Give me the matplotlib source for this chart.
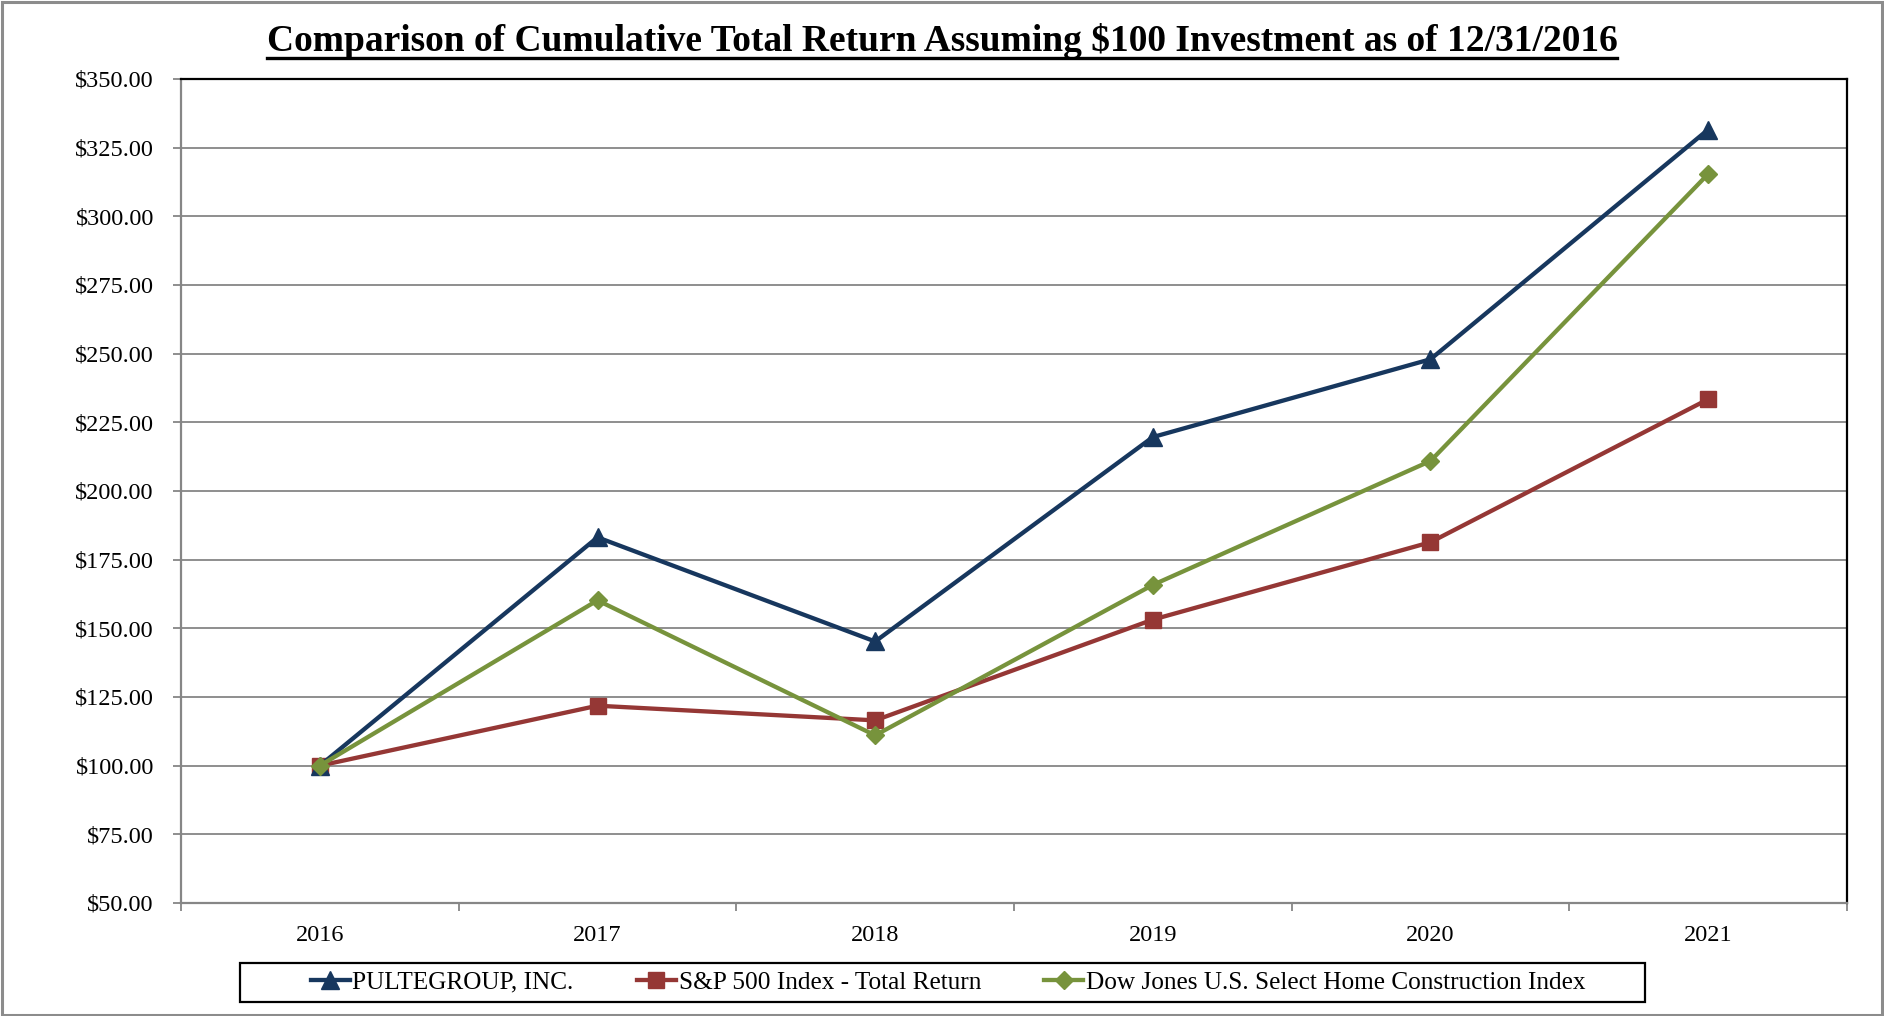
import matplotlib
matplotlib.use("Agg")
import matplotlib.pyplot as plt
from matplotlib.lines import Line2D
from matplotlib.patches import Rectangle
from matplotlib.ticker import FuncFormatter

years = ["2016", "2017", "2018", "2019", "2020", "2021"]
pulte = [100.00, 183.13, 145.21, 219.63, 247.97, 331.59]
sp500 = [100.00, 121.83, 116.49, 153.17, 181.35, 233.41]
djhome = [100.00, 160.19, 111.04, 165.81, 210.93, 315.42]

NAVY = "#17375E"
RED = "#953735"
GREEN = "#77933C"
GRID = "#868686"

plt.rcParams["font.family"] = ["Liberation Serif", "DejaVu Serif"]

W, H = 1884, 1016
fig = plt.figure(figsize=(W / 100, H / 100), dpi=100)
fig.patch.set_facecolor("white")

# outer border of the picture
fig.add_artist(Rectangle((0.001, 0.001), 0.998, 0.997, transform=fig.transFigure,
                         fill=False, ec="#8c8c8c", lw=2.2))

ax = fig.add_axes([181 / W, 1 - 903 / H, (1847 - 181) / W, (903 - 79) / H])
x = list(range(len(years)))
ax.plot(x, pulte, color=NAVY, lw=3.1, marker="^", ms=13.5, mec=NAVY, mfc=NAVY,
        label="PULTEGROUP, INC.", zorder=4)
ax.plot(x, sp500, color=RED, lw=3.1, marker="s", ms=11, mec=RED, mfc=RED,
        label="S&P 500 Index - Total Return", zorder=3)
ax.plot(x, djhome, color=GREEN, lw=3.1, marker="D", ms=9, mec=GREEN, mfc=GREEN,
        label="Dow Jones U.S. Select Home Construction Index", zorder=5)

ax.set_xlim(-0.5, len(years) - 0.5)
ax.set_ylim(50, 350)
ax.set_yticks(range(50, 351, 25))
ax.yaxis.set_major_formatter(FuncFormatter(lambda v, p: f"${v:.2f}"))
ax.yaxis.grid(True, color=GRID, lw=1.3)
ax.set_axisbelow(True)
ax.tick_params(axis="y", direction="out", length=5.5, width=1.3, color=GRID,
               pad=14, labelsize=17.5)

ax.set_xticks(x)
ax.set_xticklabels(years)
ax.tick_params(axis="x", which="major", length=0, pad=16, labelsize=17.5)
ax.set_xticks([i - 0.5 for i in range(len(years) + 1)], minor=True)
ax.tick_params(axis="x", which="minor", direction="out", length=6, width=1.3, color=GRID)

for s in ("top", "right"):
    ax.spines[s].set_color("black")
    ax.spines[s].set_linewidth(1.6)
for s in ("left", "bottom"):
    ax.spines[s].set_color(GRID)
    ax.spines[s].set_linewidth(1.6)

# title with underline
title = fig.text(0.5, 1 - 51 / H,
                 "Comparison of Cumulative Total Return Assuming $100 Investment as of 12/31/2016",
                 ha="center", va="baseline", fontsize=27, fontweight="bold")
fig.canvas.draw()
bb = title.get_window_extent()
uy = 1 - 58 / H
fig.add_artist(Line2D([bb.x0 / W, bb.x1 / W], [uy, uy], transform=fig.transFigure,
                      color="black", lw=2.4))

# legend box
fig.add_artist(Rectangle((240 / W, 14 / H), 1405 / W, 39 / H, transform=fig.transFigure,
                         fill=False, ec="black", lw=1.6))
fig.legend(loc="center", bbox_to_anchor=(948 / W, 1 - 982.5 / H), ncol=3, frameon=False,
           fontsize=18.2, handlelength=1.55, handletextpad=0.1, columnspacing=2.5,
           numpoints=1)

fig.savefig("out.png", dpi=100)
